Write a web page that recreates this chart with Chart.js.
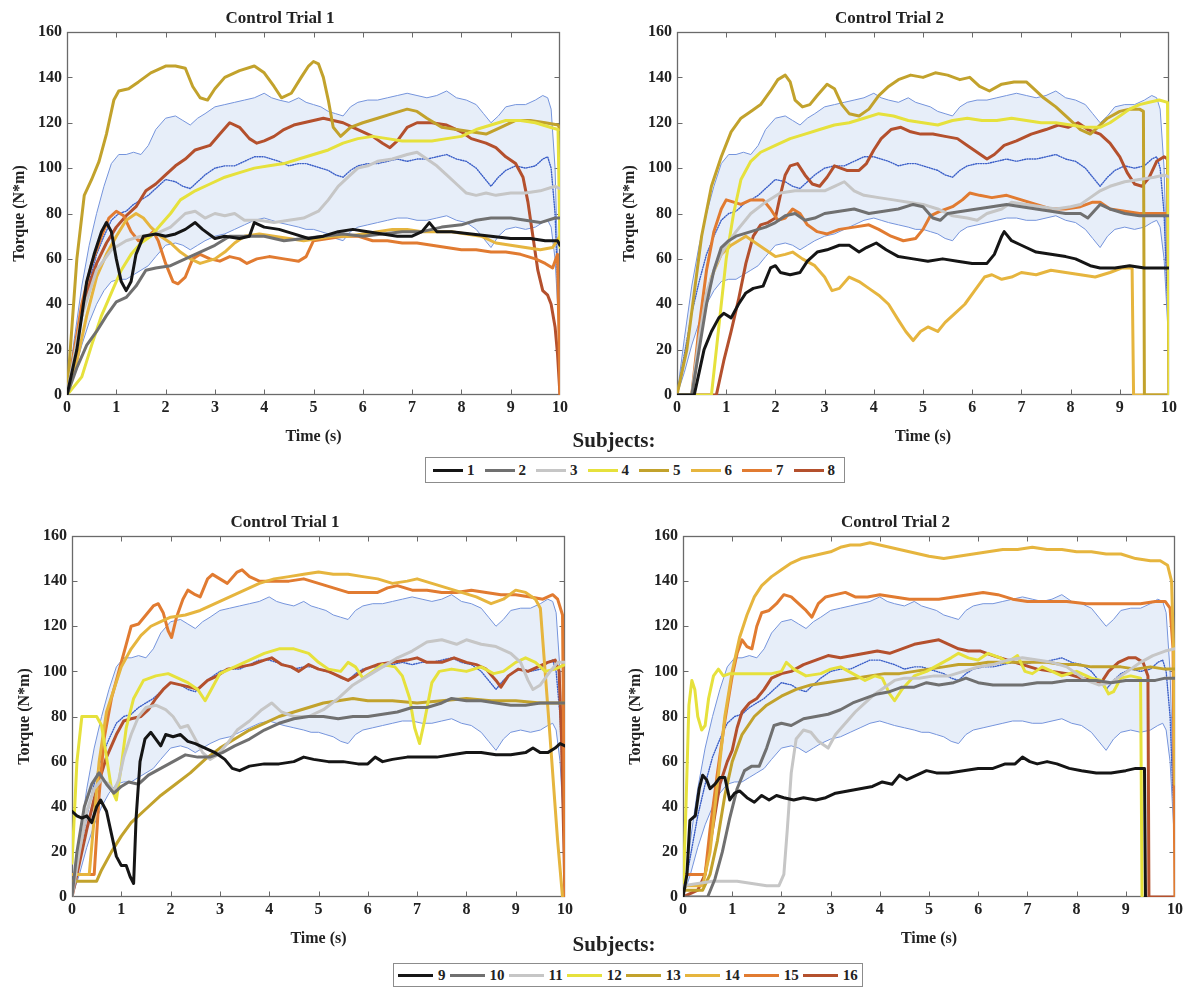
<!DOCTYPE html>
<html>
<head>
<meta charset="utf-8">
<title>Torque curves – Control Trials</title>
<script src="https://cdn.jsdelivr.net/npm/chart.js@4.4.1/dist/chart.umd.min.js"></script>
<style>
  html, body { margin: 0; padding: 0; background: #ffffff; }
  body { position: relative; width: 1185px; height: 991px; overflow: hidden;
         font-family: "Liberation Serif", "Times New Roman", serif; color: #222; }
  canvas.panel { position: absolute; }
  .subjects-title { position: absolute; transform: translateX(-50%); font-weight: bold;
                    font-size: 21px; line-height: 21px; white-space: nowrap; }
  .legend-box { position: absolute; box-sizing: border-box; border: 1.5px solid #8c8c8c;
                background: #fff; display: flex; align-items: center; }
  .legend-item { display: flex; align-items: center; font-weight: bold; }
  .legend-item .sw { display: inline-block; height: 3px; }
</style>
</head>
<body>

<script>
// ---------- axis ticks ----------
const TIME_TICKS = [0, 1, 2, 3, 4, 5, 6, 7, 8, 9, 10];
const TORQUE_TICKS = [0, 20, 40, 60, 80, 100, 120, 140, 160];

// ---------- reference band: mean ± SD of the healthy group (same in every panel) ----------
const BAND_T = [0,0.15,0.3,0.45,0.6,0.75,0.9,1.05,1.2,1.35,1.5,1.65,1.8,2.0,2.2,2.35,2.5,2.65,2.8,3.0,
  3.2,3.4,3.6,3.8,4.0,4.15,4.3,4.5,4.7,4.85,5.0,5.15,5.3,5.45,5.6,5.75,5.9,6.1,6.3,6.5,
  6.7,6.9,7.1,7.3,7.5,7.7,7.9,8.1,8.3,8.45,8.6,8.75,8.9,9.1,9.3,9.5,9.65,9.75,9.82,9.9,9.95,10];
const BAND_UPPER = [0,25,48,66,80,92,102,106,106,107,106,110,117,122,123,121,119,122,124,127,
  128,129,130,131,133,131,130,129,131,129,128,127,125,124,123,127,129,130,130,131,
  132,133,132,131,132,134,131,130,128,124,120,123,127,128,128,130,132,131,126,100,60,40];
const BAND_MEAN = [0,18,36,50,62,70,77,80,81,84,86,88,91,95,94,92,91,94,97,100,
  101,101,103,105,105,104,103,101,102,102,101,100,99,97,96,99,101,102,102,103,
  104,103,104,104,105,106,104,103,100,96,92,96,99,101,100,101,104,105,100,80,50,30];
const BAND_LOWER = [0,10,22,32,40,46,50,51,51,53,55,57,61,66,67,66,64,66,68,70,
  71,73,75,77,78,77,76,75,74,73,73,72,71,69,68,72,74,75,76,77,
  78,78,77,77,78,79,77,76,73,69,65,70,73,74,73,74,76,77,74,60,40,20];

// ---------- subject labels ----------
const SUBJECTS_A = ['1', '2', '3', '4', '5', '6', '7', '8'];
const SUBJECTS_B = ['9', '10', '11', '12', '13', '14', '15', '16'];

// ---------- subjects 1–8, Control Trial 1: [time (s), torque (N·m)] ----------
const A1_S1 = [[0,0],[0.2,20],[0.4,50],[0.55,62],[0.7,72],[0.8,76],[0.9,72],[1.0,60],[1.1,50],[1.2,46],[1.3,50],[1.4,62],[1.55,70],[1.8,71],[2.0,70],[2.2,71],[2.4,73],[2.6,76],[2.75,73],[3.0,69],[3.2,70],[3.5,69],[3.7,70],[3.8,76],[4.0,74],[4.3,73],[4.6,71],[4.9,69],[5.2,70],[5.5,72],[5.8,73],[6.1,72],[6.4,71],[6.7,70],[7.0,70],[7.2,72],[7.35,76],[7.5,72],[7.8,72],[8.2,71],[8.6,70],[9.0,69],[9.4,69],[9.7,68],[9.95,68],[10,66]];
const A1_S2 = [[0,0],[0.2,12],[0.4,22],[0.6,28],[0.8,35],[1.0,41],[1.2,43],[1.4,48],[1.6,55],[1.8,56],[2.1,57],[2.4,60],[2.7,63],[3.0,66],[3.3,70],[3.6,70],[4.0,70],[4.4,68],[4.8,69],[5.2,70],[5.6,71],[6.0,70],[6.4,71],[6.8,72],[7.2,72],[7.6,74],[8.0,75],[8.3,77],[8.6,78],[9.0,78],[9.3,77],[9.6,76],[9.9,78],[10,78]];
const A1_S3 = [[0,0],[0.3,35],[0.6,55],[0.9,64],[1.2,68],[1.5,70],[1.8,71],[2.1,74],[2.4,80],[2.6,81],[2.8,78],[3.0,80],[3.2,79],[3.4,80],[3.6,77],[3.9,77],[4.2,76],[4.5,77],[4.8,78],[5.1,81],[5.3,86],[5.5,92],[5.7,96],[5.9,100],[6.1,101],[6.3,103],[6.6,104],[6.9,106],[7.1,107],[7.3,104],[7.5,101],[7.7,97],[7.9,93],[8.1,89],[8.3,88],[8.5,89],[8.7,88],[9.0,89],[9.3,89],[9.6,90],[9.9,92],[10,91]];
const A1_S4 = [[0,0],[0.3,8],[0.5,22],[0.7,35],[0.9,45],[1.1,55],[1.3,62],[1.5,67],[1.7,70],[1.9,75],[2.1,80],[2.3,86],[2.6,90],[2.9,93],[3.2,96],[3.5,98],[3.8,100],[4.1,101],[4.4,102],[4.7,104],[5.0,106],[5.3,108],[5.6,111],[5.9,113],[6.2,114],[6.5,113],[6.8,112],[7.1,112],[7.4,112],[7.7,113],[8.0,114],[8.3,117],[8.6,119],[8.9,121],[9.2,121],[9.5,120],[9.8,118],[9.96,117],[10,65]];
const A1_S5 = [[0,0],[0.1,30],[0.2,60],[0.35,88],[0.5,95],[0.65,103],[0.8,115],[0.95,130],[1.05,134],[1.25,135],[1.45,138],[1.7,142],[2.0,145],[2.2,145],[2.4,144],[2.55,136],[2.7,131],[2.85,130],[3.0,135],[3.2,140],[3.5,143],[3.8,145],[4.0,142],[4.2,136],[4.35,131],[4.55,133],[4.75,140],[4.9,145],[5.0,147],[5.1,146],[5.2,140],[5.3,130],[5.4,118],[5.55,114],[5.75,118],[6.0,120],[6.3,122],[6.6,124],[6.9,126],[7.1,125],[7.3,122],[7.6,118],[7.9,117],[8.2,116],[8.5,115],[8.8,118],[9.1,121],[9.4,121],[9.7,120],[9.96,119],[10,117]];
const A1_S6 = [[0,0],[0.2,15],[0.4,35],[0.6,52],[0.8,62],[1.0,70],[1.2,77],[1.4,80],[1.55,78],[1.7,74],[1.9,70],[2.1,67],[2.3,63],[2.5,60],[2.7,58],[3.0,60],[3.2,63],[3.4,67],[3.6,70],[3.9,71],[4.2,70],[4.5,69],[4.8,68],[5.1,69],[5.4,70],[5.7,70],[6.0,71],[6.3,72],[6.6,73],[6.9,73],[7.2,72],[7.5,72],[7.8,72],[8.1,71],[8.4,70],[8.7,67],[9.0,66],[9.3,65],[9.6,64],[9.85,65],[10,70]];
const A1_S7 = [[0,0],[0.15,20],[0.3,40],[0.5,58],[0.7,70],[0.85,78],[1.0,81],[1.15,79],[1.3,72],[1.45,68],[1.6,69],[1.75,72],[1.85,68],[2.0,58],[2.15,50],[2.25,49],[2.4,52],[2.55,60],[2.7,62],[2.9,60],[3.1,59],[3.3,61],[3.5,60],[3.65,58],[3.85,60],[4.1,61],[4.4,60],[4.7,59],[4.85,61],[5.0,68],[5.3,69],[5.6,70],[5.9,70],[6.2,68],[6.5,68],[6.8,67],[7.1,67],[7.4,66],[7.7,65],[8.0,64],[8.3,64],[8.6,63],[8.9,63],[9.2,62],[9.5,60],[9.7,58],[9.85,56],[9.95,62],[10,0]];
const A1_S8 = [[0,0],[0.2,25],[0.4,45],[0.6,58],[0.8,67],[1.0,74],[1.2,79],[1.4,83],[1.6,90],[1.8,93],[2.0,97],[2.2,101],[2.4,104],[2.6,108],[2.9,110],[3.1,115],[3.3,120],[3.5,118],[3.7,113],[3.85,111],[4.0,112],[4.2,114],[4.4,117],[4.6,119],[4.8,120],[5.0,121],[5.2,122],[5.4,121],[5.6,120],[5.8,118],[6.0,116],[6.2,114],[6.4,111],[6.55,109],[6.7,112],[6.9,118],[7.1,120],[7.4,120],[7.7,119],[8.0,116],[8.2,113],[8.5,111],[8.7,109],[8.9,105],[9.1,102],[9.25,96],[9.35,85],[9.45,70],[9.55,55],[9.65,46],[9.75,44],[9.82,40],[9.9,30],[9.95,18],[10,0]];

// ---------- subjects 1–8, Control Trial 2 ----------
const A2_S1 = [[0,0],[0.35,0],[0.45,10],[0.55,20],[0.7,28],[0.85,34],[0.95,36],[1.1,34],[1.25,40],[1.4,45],[1.55,47],[1.75,48],[1.9,56],[2.0,57],[2.1,54],[2.3,53],[2.5,54],[2.65,59],[2.85,63],[3.05,64],[3.3,66],[3.5,66],[3.7,63],[3.85,65],[4.05,67],[4.25,64],[4.5,61],[4.8,60],[5.1,59],[5.4,60],[5.7,59],[6.0,58],[6.3,58],[6.45,62],[6.6,70],[6.65,72],[6.8,68],[7.0,66],[7.3,63],[7.6,62],[7.9,61],[8.1,60],[8.4,57],[8.6,56],[8.9,56],[9.2,57],[9.5,56],[9.8,56],[10,56]];
const A2_S2 = [[0,0],[0.3,0],[0.45,20],[0.6,40],[0.75,55],[0.9,65],[1.05,68],[1.2,70],[1.5,72],[1.8,74],[2.0,76],[2.2,79],[2.4,80],[2.6,77],[2.8,78],[3.0,80],[3.3,81],[3.6,82],[3.9,80],[4.2,81],[4.5,82],[4.8,84],[5.0,83],[5.2,78],[5.35,77],[5.5,80],[5.8,81],[6.1,82],[6.4,83],[6.7,84],[7.0,83],[7.3,82],[7.6,81],[7.9,80],[8.2,80],[8.35,78],[8.6,84],[8.8,82],[9.1,80],[9.4,79],[9.7,79],[10,79]];
const A2_S3 = [[0,0],[0.3,0],[0.45,25],[0.6,45],[0.8,58],[1.0,66],[1.2,72],[1.5,80],[1.8,85],[2.1,89],[2.4,90],[2.7,90],[3.0,90],[3.2,92],[3.4,94],[3.6,90],[3.8,88],[4.1,87],[4.4,86],[4.7,85],[5.0,84],[5.3,82],[5.6,79],[5.9,78],[6.1,77],[6.3,80],[6.6,82],[6.8,85],[7.1,84],[7.4,83],[7.7,82],[8.0,83],[8.2,84],[8.4,87],[8.6,90],[8.8,92],[9.1,94],[9.4,95],[9.7,96],[9.9,97],[10,96]];
const A2_S4 = [[0,0],[0.7,0],[0.85,30],[1.0,60],[1.15,80],[1.3,95],[1.5,103],[1.7,107],[2.0,110],[2.3,113],[2.6,115],[2.9,117],[3.2,119],[3.5,120],[3.8,122],[4.1,124],[4.4,123],[4.7,121],[5.0,120],[5.3,119],[5.6,121],[5.9,122],[6.2,121],[6.5,121],[6.8,122],[7.1,121],[7.4,120],[7.7,120],[8.0,119],[8.3,118],[8.6,118],[8.8,120],[9.0,123],[9.2,126],[9.4,128],[9.6,129],[9.8,130],[9.97,129],[10,0]];
const A2_S5 = [[0,0],[0.2,20],[0.35,45],[0.5,70],[0.7,92],[0.9,105],[1.1,116],[1.3,122],[1.5,125],[1.7,128],[1.9,134],[2.05,139],[2.2,141],[2.3,138],[2.4,130],[2.55,127],[2.7,128],[2.85,132],[3.05,137],[3.2,135],[3.35,128],[3.5,124],[3.7,123],[3.9,126],[4.1,132],[4.3,136],[4.5,139],[4.75,141],[5.0,140],[5.25,142],[5.5,141],[5.75,139],[5.95,140],[6.15,136],[6.35,134],[6.6,137],[6.85,138],[7.1,138],[7.25,135],[7.45,131],[7.7,127],[7.95,122],[8.2,117],[8.4,115],[8.55,118],[8.75,122],[9.0,125],[9.2,126],[9.4,126],[9.48,125],[9.5,0],[10,0]];
const A2_S6 = [[0,0],[0.3,0],[0.5,30],[0.7,52],[0.9,62],[1.1,66],[1.25,68],[1.4,70],[1.6,67],[1.8,64],[2.0,61],[2.2,62],[2.35,63],[2.55,60],[2.8,57],[3.0,52],[3.15,46],[3.3,47],[3.5,52],[3.7,50],[3.9,47],[4.1,44],[4.3,40],[4.5,33],[4.65,28],[4.8,24],[4.95,28],[5.1,30],[5.3,28],[5.45,32],[5.65,36],[5.85,40],[6.05,46],[6.25,52],[6.4,53],[6.6,51],[6.8,52],[7.0,54],[7.3,53],[7.6,55],[7.9,54],[8.2,53],[8.5,52],[8.8,54],[9.05,56],[9.25,56],[9.28,0],[10,0]];
const A2_S7 = [[0,0],[0.3,0],[0.45,30],[0.6,55],[0.75,72],[0.9,82],[1.0,86],[1.15,85],[1.3,84],[1.5,86],[1.75,86],[1.9,82],[2.05,77],[2.2,78],[2.35,82],[2.5,80],[2.65,75],[2.85,72],[3.05,71],[3.3,73],[3.6,74],[3.9,75],[4.1,73],[4.35,70],[4.6,68],[4.85,69],[5.0,73],[5.15,79],[5.35,81],[5.6,83],[5.8,86],[5.95,89],[6.15,88],[6.4,87],[6.7,88],[7.0,86],[7.3,84],[7.6,82],[7.9,82],[8.2,83],[8.45,85],[8.6,85],[8.8,82],[9.1,81],[9.4,80],[9.7,80],[10,80]];
const A2_S8 = [[0,0],[0.8,0],[0.95,15],[1.1,28],[1.25,42],[1.4,58],[1.55,70],[1.7,75],[1.85,76],[2.0,78],[2.1,88],[2.2,97],[2.3,101],[2.45,102],[2.6,97],[2.75,93],[2.9,92],[3.05,96],[3.2,101],[3.45,99],[3.7,99],[3.85,102],[4.0,108],[4.15,113],[4.35,117],[4.55,118],[4.75,116],[4.95,115],[5.2,115],[5.45,114],[5.7,113],[5.9,110],[6.1,107],[6.3,104],[6.45,106],[6.65,110],[6.9,112],[7.2,115],[7.5,117],[7.75,119],[7.95,118],[8.15,120],[8.35,117],[8.6,115],[8.8,111],[9.0,105],[9.15,98],[9.3,93],[9.45,92],[9.6,96],[9.75,103],[9.9,105],[9.97,104],[10,0]];

// ---------- subjects 9–16, Control Trial 1 ----------
const B1_S9 = [[0,38],[0.1,36],[0.2,35],[0.3,36],[0.4,33],[0.5,40],[0.58,43],[0.7,38],[0.8,28],[0.9,18],[1.0,14],[1.1,14],[1.18,9],[1.25,6],[1.3,35],[1.38,60],[1.48,70],[1.6,73],[1.7,70],[1.8,67],[1.9,72],[2.05,71],[2.2,72],[2.35,69],[2.5,68],[2.7,66],[2.9,64],[3.1,61],[3.25,57],[3.4,56],[3.6,58],[3.9,59],[4.2,59],[4.5,60],[4.7,62],[4.9,61],[5.2,60],[5.5,60],[5.8,59],[6.0,59],[6.15,62],[6.3,60],[6.5,61],[6.8,62],[7.1,62],[7.4,62],[7.7,63],[8.0,64],[8.3,64],[8.6,63],[8.9,63],[9.2,64],[9.35,66],[9.5,64],[9.65,64],[9.8,66],[9.9,68],[10,67]];
const B1_S10 = [[0,0],[0.1,20],[0.25,40],[0.4,50],[0.55,55],[0.7,50],[0.85,46],[1.0,49],[1.15,51],[1.35,50],[1.55,54],[1.8,57],[2.05,60],[2.3,63],[2.55,62],[2.8,62],[3.05,64],[3.3,67],[3.6,70],[3.9,74],[4.2,77],[4.5,79],[4.8,80],[5.1,80],[5.4,79],[5.7,80],[6.0,80],[6.3,81],[6.6,82],[6.9,84],[7.2,84],[7.5,86],[7.7,88],[8.0,87],[8.3,87],[8.6,86],[8.9,85],[9.2,85],[9.5,86],[9.8,86],[10,86]];
const B1_S11 = [[0,0],[0.15,20],[0.3,38],[0.45,48],[0.6,52],[0.75,50],[0.85,47],[0.95,52],[1.05,62],[1.2,72],[1.35,80],[1.5,84],[1.7,85],[1.9,83],[2.05,80],[2.2,75],[2.35,76],[2.5,70],[2.65,64],[2.8,61],[2.95,63],[3.15,68],[3.35,74],[3.6,78],[3.85,83],[4.05,86],[4.25,82],[4.5,80],[4.8,80],[5.1,83],[5.4,88],[5.7,94],[6.0,98],[6.3,102],[6.6,106],[6.9,109],[7.2,113],[7.5,114],[7.8,112],[8.0,114],[8.3,112],[8.6,111],[8.9,108],[9.1,104],[9.25,96],[9.35,92],[9.5,94],[9.7,100],[9.85,104],[10,104]];
const B1_S12 = [[0,15],[0.1,60],[0.2,80],[0.35,80],[0.5,80],[0.6,76],[0.7,62],[0.8,48],[0.9,43],[1.0,58],[1.1,75],[1.25,88],[1.45,96],[1.7,98],[1.95,99],[2.15,97],[2.35,95],[2.55,92],[2.7,87],[2.85,93],[3.0,99],[3.3,102],[3.6,105],[3.9,108],[4.2,110],[4.5,110],[4.8,108],[5.0,104],[5.2,101],[5.45,100],[5.6,104],[5.75,102],[5.9,97],[6.1,100],[6.3,103],[6.55,102],[6.7,98],[6.85,88],[6.95,75],[7.05,68],[7.15,78],[7.3,95],[7.45,100],[7.7,101],[8.0,100],[8.3,102],[8.55,99],[8.75,100],[9.0,104],[9.2,106],[9.4,104],[9.6,100],[9.8,101],[10,103]];
const B1_S13 = [[0,7],[0.25,7],[0.5,7],[0.6,12],[0.8,20],[1.0,27],[1.2,33],[1.5,39],[1.8,45],[2.1,50],[2.4,55],[2.7,61],[3.0,66],[3.3,70],[3.6,74],[3.9,77],[4.2,80],[4.5,82],[4.8,84],[5.1,86],[5.4,87],[5.7,88],[6.0,87],[6.5,87],[7.0,86],[7.5,87],[8.0,88],[8.5,87],[9.0,87],[9.5,86],[10,86]];
const B1_S14 = [[0,10],[0.35,10],[0.45,35],[0.55,60],[0.7,82],[0.85,92],[1.0,102],[1.2,110],[1.4,116],[1.6,120],[1.8,122],[2.0,124],[2.3,125],[2.6,127],[2.9,130],[3.2,133],[3.5,136],[3.8,139],[4.1,141],[4.4,142],[4.7,143],[5.0,144],[5.3,143],[5.6,143],[5.9,142],[6.2,141],[6.5,139],[6.8,140],[7.0,141],[7.3,139],[7.6,137],[7.9,135],[8.2,133],[8.5,130],[8.75,132],[9.0,136],[9.2,135],[9.4,132],[9.5,128],[9.7,70],[9.85,25],[9.95,0]];
const B1_S15 = [[0,10],[0.45,10],[0.55,45],[0.65,70],[0.8,88],[0.95,100],[1.1,112],[1.2,120],[1.35,121],[1.5,125],[1.65,129],[1.75,130],[1.85,126],[1.95,118],[2.02,115],[2.12,124],[2.25,132],[2.35,136],[2.5,134],[2.6,133],[2.75,141],[2.85,143],[3.0,141],[3.15,139],[3.35,144],[3.45,145],[3.6,142],[3.8,140],[4.1,140],[4.4,140],[4.7,141],[5.0,139],[5.3,137],[5.6,135],[5.9,135],[6.2,135],[6.4,137],[6.6,138],[6.9,136],[7.2,136],[7.5,135],[7.8,135],[8.1,136],[8.4,135],[8.7,134],[9.0,134],[9.3,133],[9.55,132],[9.75,134],[9.85,132],[9.95,125],[10,0]];
const B1_S16 = [[0,0],[0.15,15],[0.3,30],[0.5,48],[0.7,62],[0.9,72],[1.05,78],[1.2,79],[1.4,80],[1.55,83],[1.7,88],[1.85,92],[2.0,95],[2.2,94],[2.4,93],[2.55,92],[2.75,96],[2.95,98],[3.15,101],[3.4,102],[3.65,103],[3.9,105],[4.05,106],[4.25,103],[4.45,102],[4.6,100],[4.8,103],[5.0,101],[5.2,100],[5.4,98],[5.6,96],[5.75,98],[5.95,101],[6.2,103],[6.5,104],[6.8,105],[7.0,106],[7.2,104],[7.5,104],[7.75,106],[8.0,104],[8.2,103],[8.4,101],[8.6,96],[8.7,93],[8.85,98],[9.05,101],[9.25,100],[9.45,102],[9.65,104],[9.8,105],[9.88,100],[9.93,70],[9.97,30],[10,0]];

// ---------- subjects 9–16, Control Trial 2 ----------
const B2_S9 = [[0,0],[0.08,10],[0.14,34],[0.25,36],[0.33,48],[0.4,54],[0.48,52],[0.55,48],[0.65,50],[0.75,53],[0.85,53],[0.95,43],[1.05,46],[1.15,47],[1.3,44],[1.45,42],[1.6,45],[1.75,43],[1.9,45],[2.05,44],[2.25,43],[2.45,44],[2.7,43],[2.9,44],[3.1,46],[3.35,47],[3.6,48],[3.85,49],[4.05,51],[4.25,50],[4.4,54],[4.55,52],[4.75,54],[4.95,56],[5.15,55],[5.4,55],[5.7,56],[6.0,57],[6.3,57],[6.55,59],[6.75,59],[6.9,62],[7.05,60],[7.2,59],[7.4,60],[7.6,59],[7.85,57],[8.1,56],[8.4,55],[8.7,55],[9.0,56],[9.2,57],[9.38,57],[9.4,0]];
const B2_S10 = [[0,0],[0.5,0],[0.65,8],[0.8,20],[0.95,35],[1.1,48],[1.25,56],[1.4,58],[1.55,58],[1.7,66],[1.85,76],[2.0,77],[2.2,76],[2.45,79],[2.7,80],[2.95,81],[3.2,83],[3.45,86],[3.7,88],[3.95,90],[4.2,91],[4.45,93],[4.7,93],[4.95,95],[5.2,94],[5.5,95],[5.75,97],[6.0,95],[6.3,94],[6.6,94],[6.9,94],[7.2,95],[7.5,95],[7.8,96],[8.1,96],[8.4,96],[8.7,95],[9.0,96],[9.3,96],[9.6,96],[9.8,97],[10,97]];
const B2_S11 = [[0,5],[0.3,6],[0.6,7],[0.9,7],[1.1,7],[1.4,6],[1.7,5],[1.95,5],[2.05,10],[2.12,30],[2.2,55],[2.3,70],[2.45,74],[2.6,73],[2.75,69],[2.95,66],[3.1,72],[3.3,77],[3.5,82],[3.7,86],[3.9,90],[4.1,93],[4.3,96],[4.5,97],[4.8,97],[5.1,98],[5.4,98],[5.7,100],[6.0,102],[6.3,103],[6.6,105],[6.9,106],[7.2,105],[7.5,104],[7.8,102],[8.0,99],[8.2,96],[8.45,94],[8.7,95],[8.9,98],[9.1,101],[9.3,104],[9.55,107],[9.8,109],[10,110]];
const B2_S12 = [[0,0],[0.06,40],[0.12,85],[0.18,96],[0.24,92],[0.3,80],[0.38,74],[0.45,76],[0.52,88],[0.62,98],[0.72,101],[0.82,98],[0.95,99],[1.2,99],[1.5,99],[1.8,99],[2.0,100],[2.1,104],[2.25,101],[2.5,98],[2.8,99],[3.0,101],[3.2,102],[3.45,99],[3.7,96],[3.9,98],[4.05,97],[4.2,90],[4.3,87],[4.45,92],[4.7,98],[4.95,100],[5.2,103],[5.45,106],[5.6,108],[5.8,106],[6.0,105],[6.2,108],[6.45,106],[6.6,104],[6.8,107],[6.95,100],[7.1,99],[7.3,102],[7.5,100],[7.7,98],[8.0,100],[8.3,97],[8.5,96],[8.65,90],[8.75,91],[8.9,97],[9.1,98],[9.3,97],[9.33,0]];
const B2_S13 = [[0,3],[0.4,3],[0.55,10],[0.7,25],[0.85,45],[1.0,60],[1.2,72],[1.45,80],[1.7,85],[2.0,89],[2.3,92],[2.6,94],[2.9,95],[3.2,96],[3.5,97],[3.8,98],[4.1,99],[4.4,99],[4.7,100],[5.0,101],[5.3,102],[5.6,103],[5.9,103],[6.2,104],[6.5,104],[6.8,104],[7.1,104],[7.4,104],[7.7,103],[8.0,103],[8.3,102],[8.6,102],[8.9,102],[9.2,101],[9.5,102],[9.8,101],[10,101]];
const B2_S14 = [[0,5],[0.4,5],[0.55,20],[0.7,50],[0.85,80],[1.0,100],[1.15,115],[1.3,125],[1.45,133],[1.6,138],[1.8,142],[2.0,145],[2.2,148],[2.4,150],[2.6,151],[2.8,152],[3.0,153],[3.2,155],[3.4,156],[3.6,156],[3.8,157],[4.0,156],[4.2,155],[4.4,154],[4.6,153],[4.8,152],[5.0,151],[5.3,150],[5.6,151],[5.9,152],[6.2,153],[6.5,154],[6.8,154],[7.1,155],[7.4,154],[7.7,154],[8.0,153],[8.3,153],[8.6,152],[8.9,152],[9.2,150],[9.5,149],[9.7,149],[9.85,147],[9.93,140],[9.97,110],[10,50]];
const B2_S15 = [[0,10],[0.45,10],[0.55,30],[0.7,55],[0.85,78],[1.0,98],[1.1,108],[1.2,114],[1.3,111],[1.4,110],[1.5,120],[1.6,126],[1.75,127],[1.9,130],[2.05,134],[2.2,133],[2.35,130],[2.5,127],[2.62,124],[2.75,130],[2.9,133],[3.1,134],[3.3,135],[3.5,133],[3.75,133],[4.0,134],[4.3,133],[4.6,132],[4.9,132],[5.2,132],[5.5,133],[5.8,134],[6.1,135],[6.4,134],[6.7,132],[7.0,131],[7.4,131],[7.8,131],[8.2,130],[8.6,130],[9.0,130],[9.3,130],[9.6,131],[9.8,131],[9.9,128],[9.96,110],[10,0]];
const B2_S16 = [[0,0],[0.3,3],[0.45,10],[0.6,30],[0.75,50],[0.9,60],[1.0,65],[1.1,75],[1.2,82],[1.35,86],[1.5,88],[1.65,92],[1.8,97],[2.0,99],[2.2,100],[2.45,103],[2.7,105],[2.95,107],[3.2,106],[3.45,107],[3.7,108],[3.95,109],[4.2,108],[4.45,110],[4.7,112],[4.95,113],[5.2,114],[5.4,112],[5.6,110],[5.8,109],[6.05,109],[6.3,107],[6.6,105],[6.9,103],[7.2,101],[7.5,100],[7.8,99],[8.1,97],[8.35,96],[8.5,95],[8.65,100],[8.85,104],[9.05,106],[9.2,106],[9.35,104],[9.45,98],[9.47,0],[10,0]];

// ---------- styling ----------
const SERIF = '"Liberation Serif", "Times New Roman", serif';
const SUBJECT_COLORS = ['#151515', '#707070', '#c6c6c6', '#e6e13c', '#c2a22c', '#e6b53e', '#e17b31', '#b4502d'];
const BAND_LINE = '#7594dc';
const BAND_MEAN_LINE = '#3b5fc8';
const BAND_FILL = 'rgba(196, 212, 240, 0.40)';
const TEXT = '#222222';

// panel placement: chart area edges in page pixels
const PANELS = [
  { title: 'Control Trial 1', series: [A1_S1, A1_S2, A1_S3, A1_S4, A1_S5, A1_S6, A1_S7, A1_S8], names: SUBJECTS_A,
    left: 67, right: 560, top: 32, bottom: 395, padRight: 20 },
  { title: 'Control Trial 2', series: [A2_S1, A2_S2, A2_S3, A2_S4, A2_S5, A2_S6, A2_S7, A2_S8], names: SUBJECTS_A,
    left: 677, right: 1169, top: 32, bottom: 395, padRight: 14 },
  { title: 'Control Trial 1', series: [B1_S9, B1_S10, B1_S11, B1_S12, B1_S13, B1_S14, B1_S15, B1_S16], names: SUBJECTS_B,
    left: 72, right: 565, top: 536, bottom: 897, padRight: 20 },
  { title: 'Control Trial 2', series: [B2_S9, B2_S10, B2_S11, B2_S12, B2_S13, B2_S14, B2_S15, B2_S16], names: SUBJECTS_B,
    left: 683, right: 1175, top: 536, bottom: 897, padRight: 10 }
];

const Y_AXIS_W = 67;   // room for tick labels and the rotated axis title
const X_AXIS_H = 51;   // room for tick labels and "Time (s)"
const TITLE_H = 32;    // panel title block

// box frame with inward tick marks on all four sides
const frameTicks = {
  id: 'frameTicks',
  beforeDatasetsDraw(chart) {
    const { ctx, chartArea: a, scales: { x, y } } = chart;
    const L = Math.round(a.left) + 0.5, R = Math.round(a.right) - 0.5;
    const T = Math.round(a.top) + 0.5, B = Math.round(a.bottom) - 0.5;
    ctx.save();
    ctx.strokeStyle = '#6a6a6a';
    ctx.lineWidth = 1.3;
    ctx.strokeRect(L, T, R - L, B - T);
    ctx.lineWidth = 1;
    ctx.beginPath();
    const len = 5;
    x.ticks.forEach(t => {
      const px = Math.round(x.getPixelForValue(t.value)) + 0.5;
      if (px <= L + 1 || px >= R - 1) return;
      ctx.moveTo(px, B); ctx.lineTo(px, B - len);
      ctx.moveTo(px, T); ctx.lineTo(px, T + len);
    });
    y.ticks.forEach(t => {
      const py = Math.round(y.getPixelForValue(t.value)) + 0.5;
      if (py <= T + 1 || py >= B - 1) return;
      ctx.moveTo(L, py); ctx.lineTo(L + len, py);
      ctx.moveTo(R, py); ctx.lineTo(R - len, py);
    });
    ctx.stroke();
    ctx.restore();
  }
};

const toPoints = arr => arr.map(([t, v]) => ({ x: t, y: v }));
const bandPoints = vals => BAND_T.map((t, i) => ({ x: t, y: vals[i] }));

function buildPanel(p) {
  const canvas = document.createElement('canvas');
  canvas.className = 'panel';
  const cLeft = p.left - Y_AXIS_W;
  const cTop = p.top - TITLE_H;
  const w = p.right - cLeft + p.padRight;
  const h = p.bottom - cTop + X_AXIS_H;
  canvas.width = w; canvas.height = h;
  canvas.style.left = cLeft + 'px';
  canvas.style.top = cTop + 'px';
  canvas.style.width = w + 'px';
  canvas.style.height = h + 'px';
  document.body.appendChild(canvas);

  const datasets = [
    { label: 'Mean + SD', data: bandPoints(BAND_UPPER), borderColor: BAND_LINE, borderWidth: 1,
      backgroundColor: BAND_FILL, fill: 2, order: 3 },
    { label: 'Mean', data: bandPoints(BAND_MEAN), borderColor: BAND_MEAN_LINE, borderWidth: 1.4,
      borderDash: [1, 1.5], fill: false, order: 2 },
    { label: 'Mean − SD', data: bandPoints(BAND_LOWER), borderColor: BAND_LINE, borderWidth: 1,
      fill: false, order: 2 }
  ];
  p.series.forEach((s, i) => {
    datasets.push({ label: p.names[i], data: toPoints(s), borderColor: SUBJECT_COLORS[i],
      borderWidth: 3, fill: false, order: 0 });
  });

  new Chart(canvas, {
    type: 'line',
    data: { datasets },
    plugins: [frameTicks],
    options: {
      responsive: false,
      animation: false,
      devicePixelRatio: 1,
      layout: { padding: { left: 0, top: 0, bottom: 0, right: p.padRight } },
      elements: { point: { radius: 0, hoverRadius: 0 }, line: { tension: 0, borderJoinStyle: 'round', borderCapStyle: 'round' } },
      plugins: {
        legend: { display: false },
        tooltip: { enabled: false },
        title: { display: true, text: p.title, color: TEXT,
                 font: { family: SERIF, size: 17, weight: 'bold', lineHeight: 1.2 },
                 padding: { top: 8, bottom: 3.6 } }
      },
      scales: {
        x: {
          type: 'linear', min: 0, max: 10,
          afterBuildTicks: s => { s.ticks = TIME_TICKS.map(v => ({ value: v })); },
          ticks: { color: TEXT, padding: 3, maxRotation: 0, autoSkip: false,
                   font: { family: SERIF, size: 16, weight: 'bold' } },
          grid: { display: false, drawTicks: false },
          border: { display: false },
          title: { display: true, text: 'Time (s)', color: TEXT, padding: 0,
                   font: { family: SERIF, size: 16, weight: 'bold' } },
          afterFit: s => { s.height = X_AXIS_H; s.paddingLeft = 0; s.paddingRight = 0; }
        },
        y: {
          type: 'linear', min: 0, max: 160,
          afterBuildTicks: s => { s.ticks = TORQUE_TICKS.map(v => ({ value: v })); },
          ticks: { color: TEXT, padding: 5, autoSkip: false,
                   font: { family: SERIF, size: 16, weight: 'bold' } },
          grid: { display: false, drawTicks: false },
          border: { display: false },
          title: { display: true, text: 'Torque (N*m)', color: TEXT, padding: { top: 10, bottom: 0 },
                   font: { family: SERIF, size: 16, weight: 'bold' } },
          afterFit: s => { s.width = Y_AXIS_W; s.paddingTop = 0; s.paddingBottom = 0; }
        }
      }
    }
  });
}

function buildLegend(names, cfg) {
  const head = document.createElement('div');
  head.className = 'subjects-title';
  head.textContent = 'Subjects:';
  head.style.left = cfg.centerX + 'px';
  head.style.top = cfg.headTop + 'px';
  document.body.appendChild(head);

  const box = document.createElement('div');
  box.className = 'legend-box';
  Object.assign(box.style, { left: cfg.left + 'px', top: cfg.top + 'px', width: cfg.width + 'px',
                             height: cfg.height + 'px', paddingLeft: cfg.padLeft + 'px' });
  names.forEach((n, i) => {
    const item = document.createElement('span');
    item.className = 'legend-item';
    item.style.fontSize = cfg.fontSize + 'px';
    item.style.marginRight = cfg.itemGap + 'px';
    const sw = document.createElement('span');
    sw.className = 'sw';
    sw.style.width = cfg.swatch + 'px';
    sw.style.background = SUBJECT_COLORS[i];
    sw.style.marginRight = cfg.labelGap + 'px';
    const lab = document.createElement('span');
    lab.textContent = n;
    item.appendChild(sw); item.appendChild(lab);
    box.appendChild(item);
  });
  document.body.appendChild(box);
}

PANELS.forEach(buildPanel);
buildLegend(SUBJECTS_A, { centerX: 614, headTop: 430, left: 425, top: 457, width: 420, height: 26,
                          padLeft: 7, swatch: 30, labelGap: 4, itemGap: 10, fontSize: 15 });
buildLegend(SUBJECTS_B, { centerX: 614, headTop: 934, left: 393, top: 963, width: 470, height: 24,
                          padLeft: 4, swatch: 35, labelGap: 5, itemGap: 4, fontSize: 15 });
</script>
</body>
</html>
